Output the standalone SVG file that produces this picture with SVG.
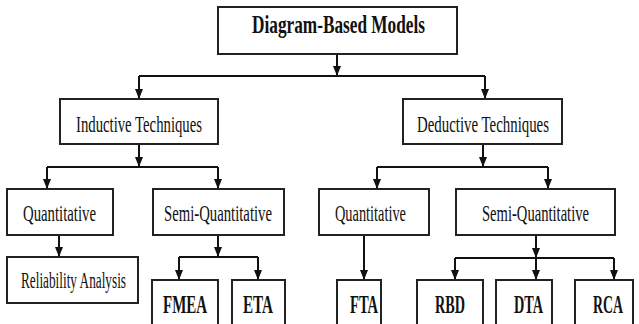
<svg xmlns="http://www.w3.org/2000/svg" width="639" height="324" viewBox="0 0 639 324">
<defs>
<marker id="ah" markerUnits="userSpaceOnUse" markerWidth="10" markerHeight="8" refX="10" refY="4" orient="auto">
<path d="M0,0 L10,4 L0,8 z" fill="#111"/>
</marker>
<style>
.box{fill:#fff;stroke:#222;stroke-width:2}
.t{font-family:"Liberation Serif","Times New Roman",serif;font-size:24px;fill:#111;text-anchor:start}
.b{font-weight:bold;font-size:25px}
.s{font-size:23px}
.c{fill:none;stroke:#111;stroke-width:2}
.a{fill:none;stroke:#111;stroke-width:2;marker-end:url(#ah)}
</style>
</defs>
<rect width="639" height="324" fill="#fff"/>
<g id="connectors">
<path class="a" d="M337,54 V76"/>
<path class="c" d="M139,76 H485"/>
<path class="a" d="M139,76 V99"/>
<path class="a" d="M485,76 V99"/>
<path class="a" d="M139,144 V167"/>
<path class="c" d="M47,167 H218"/>
<path class="a" d="M47,167 V189"/>
<path class="a" d="M218,167 V189"/>
<path class="a" d="M59,235 V257"/>
<path class="a" d="M218,235 V257"/>
<path class="c" d="M179,257 H258"/>
<path class="a" d="M179,257 V280"/>
<path class="a" d="M258,257 V280"/>
<path class="a" d="M483,144 V167"/>
<path class="c" d="M377,167 H548"/>
<path class="a" d="M377,167 V189"/>
<path class="a" d="M548,167 V189"/>
<path class="a" d="M364,235 V280"/>
<path class="a" d="M536,235 V258"/>
<path class="c" d="M455,258 H614"/>
<path class="a" d="M455,258 V280"/>
<path class="a" d="M536,258 V280"/>
<path class="a" d="M614,258 V280"/>
</g>
<g id="diagram-based-models">
<rect class="box" x="218" y="7" width="239" height="47"/>
<text class="t b" x="252" y="33" textLength="173" lengthAdjust="spacingAndGlyphs">Diagram-Based Models</text>
</g>
<g id="inductive-techniques">
<rect class="box" x="60" y="99" width="158" height="45"/>
<text class="t" x="76" y="132" textLength="126" lengthAdjust="spacingAndGlyphs">Inductive Techniques</text>
</g>
<g id="deductive-techniques">
<rect class="box" x="403" y="99" width="159" height="45"/>
<text class="t" x="417" y="132" textLength="132" lengthAdjust="spacingAndGlyphs">Deductive Techniques</text>
</g>
<g id="quantitative-left">
<rect class="box" x="7" y="189" width="106" height="46"/>
<text class="t" x="23" y="221" textLength="73" lengthAdjust="spacingAndGlyphs">Quantitative</text>
</g>
<g id="semi-quantitative-left">
<rect class="box" x="153" y="189" width="131" height="46"/>
<text class="t" x="164" y="221" textLength="108" lengthAdjust="spacingAndGlyphs">Semi-Quantitative</text>
</g>
<g id="reliability-analysis">
<rect class="box" x="7" y="257" width="131" height="46"/>
<text class="t s" x="21" y="288" textLength="105" lengthAdjust="spacingAndGlyphs">Reliability Analysis</text>
</g>
<g id="fmea">
<rect class="box" x="152" y="280" width="66" height="52"/>
<text class="t b" x="163" y="313" textLength="44" lengthAdjust="spacingAndGlyphs">FMEA</text>
</g>
<g id="eta">
<rect class="box" x="232" y="280" width="53" height="52"/>
<text class="t b" x="243" y="313" textLength="30" lengthAdjust="spacingAndGlyphs">ETA</text>
</g>
<g id="quantitative-right">
<rect class="box" x="319" y="189" width="110" height="46"/>
<text class="t" x="335" y="221" textLength="71" lengthAdjust="spacingAndGlyphs">Quantitative</text>
</g>
<g id="semi-quantitative-right">
<rect class="box" x="456" y="189" width="159" height="46"/>
<text class="t" x="482" y="221" textLength="107" lengthAdjust="spacingAndGlyphs">Semi-Quantitative</text>
</g>
<g id="fta">
<rect class="box" x="337" y="280" width="44" height="52"/>
<text class="t b" x="350" y="313" textLength="28" lengthAdjust="spacingAndGlyphs">FTA</text>
</g>
<g id="rbd">
<rect class="box" x="417" y="280" width="66" height="52"/>
<text class="t b" x="435" y="313" textLength="30" lengthAdjust="spacingAndGlyphs">RBD</text>
</g>
<g id="dta">
<rect class="box" x="496" y="280" width="56" height="52"/>
<text class="t b" x="514" y="313" textLength="29" lengthAdjust="spacingAndGlyphs">DTA</text>
</g>
<g id="rca">
<rect class="box" x="575" y="280" width="58" height="52"/>
<text class="t b" x="593" y="313" textLength="30" lengthAdjust="spacingAndGlyphs">RCA</text>
</g>
</svg>
